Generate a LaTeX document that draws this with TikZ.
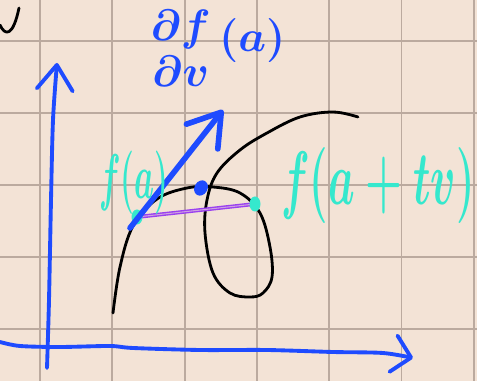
\RequirePackage{fix-cm}
\documentclass[tikz,border=0pt]{standalone}
\usepackage{amsmath}
\usepackage{graphicx}
\usetikzlibrary{arrows.meta,shapes.geometric}

\definecolor{paper}{HTML}{F3E3D6}
\definecolor{gridline}{HTML}{BBAA9F}
\definecolor{penblue}{HTML}{1E4BFF}
\definecolor{penteal}{HTML}{35E8CD}
\definecolor{penpurple}{HTML}{9A40F0}

\tikzset{
    curve/.style={black,line width=1.6pt,line cap=round,line join=round},
    axis/.style={penblue,line width=2.2pt,line cap=round},
    vec/.style={penblue,line width=3.2pt,line cap=round,
        -{Straight Barb[length=0.62cm,width=0.8cm,round]}},
    dot/.style={ellipse,fill=penteal,minimum width=0.22cm,
        minimum height=0.3cm,inner sep=0pt},
    chord/.style={draw=penpurple,double=penpurple!40!paper,
        double distance=0.6pt,line width=0.8pt},
    handtext/.style={inner sep=0pt}
}

\begin{document}
\begin{tikzpicture}[x=0.02cm,y=-0.02cm]

    % paper
    \fill[paper] (0,0) rectangle (477,381);
    \useasboundingbox (0,0) rectangle (477,381);

    % grid
    \foreach \i in {0,...,6} {
        \draw[gridline,line width=1.1pt] ({40+72.3*\i},0) -- ({40+72.3*\i},381);
    }
    \foreach \i in {0,...,4} {
        \draw[gridline,line width=1.1pt] (0,{40.7+72.1*\i}) -- (477,{40.7+72.1*\i});
    }

    % stray v
    \draw[curve] (0,25) .. controls (5,36) and (13,37) .. (19,8);

    % axes
    \draw[axis,-{Straight Barb[length=0.5cm,width=0.72cm,round]}]
        plot[smooth] coordinates {(47,368) (49,300) (51,200) (53,120) (57,63)};
    \draw[axis,-{Straight Barb[length=0.36cm,width=0.74cm,round]}]
        plot[smooth] coordinates {(0,342) (20,346) (60,347) (110,346) (133,348)
            (200,350) (267,350) (333,352) (383,353) (413,358)};

    % the curve with its loop
    \draw[curve] plot[smooth,tension=0.6] coordinates {
        (113,313) (120,267) (133,226) (157,199) (187,188) (213,187)
        (240,193) (260,213) (270,247) (272,277) (263,293) (250,297)
        (230,293) (213,273) (205,233) (207,200) (217,173) (240,150)
        (267,133) (300,117) (333,112) (358,117)};

    % points and chord
    \coordinate (fa) at (137,217);
    \coordinate (fatv) at (255,204);
    \draw[chord] (fa) -- (fatv);
    \node (dotfa) [dot] at (fa) {};
    \node (dotfatv) [dot] at (fatv) {};
    \node (crest) [ellipse,fill=penblue,minimum width=0.26cm,
        minimum height=0.32cm,inner sep=0pt,rotate=-30] at (201,188) {};

    % directional derivative
    \coordinate (base) at (130,228);
    \coordinate (tip) at (223,110);
    \draw[vec] (base) -- (tip);

    % labels
    \node (lblfa) [handtext,text=penteal,font=\fontsize{18}{18}\selectfont\boldmath]
        at (134,183) {\scalebox{1}[2]{$f(a)$}};
    \node (lblfatv) [handtext,text=penteal,font=\fontsize{24}{24}\selectfont\boldmath]
        at (378,186) {\scalebox{1}[1.8]{$f(a+tv)$}};
    \node (lbldv) [handtext,text=penblue,font=\fontsize{25}{25}\selectfont\boldmath]
        at (218,55) {$\begin{array}{@{}c@{}}\partial f\\[1pt]\partial v\end{array}
            \,\raisebox{8pt}{$(a)$}$};

\end{tikzpicture}
\end{document}
